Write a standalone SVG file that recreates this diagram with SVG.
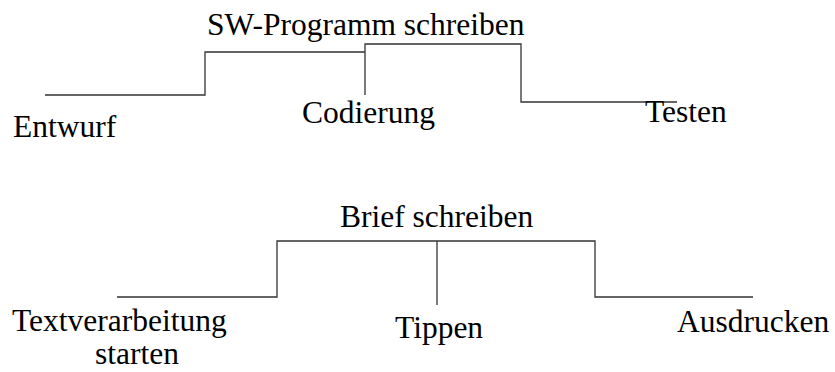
<svg xmlns="http://www.w3.org/2000/svg" width="835" height="372" viewBox="0 0 835 372">
<style>
text{font-family:"Liberation Serif","Times New Roman",serif;font-size:31.5px;fill:#000}
.c line,.c polyline{stroke:#333;stroke-width:1.3;fill:none}
</style>
<rect width="835" height="372" fill="#fff"/>
<g class="c" id="connectors">
<polyline points="45,95 205,95 205,52 365,52"/>
<polyline points="365,95 365,44 521,44 521,102 677,102"/>
<polyline points="117,297 277,297 277,241 595,241 595,297 753,297"/>
<line x1="437" y1="241" x2="437" y2="305"/>
</g>
<g id="sw"><text x="207" y="35">SW-Programm schreiben</text></g>
<g id="entwurf"><text x="13" y="137">Entwurf</text></g>
<g id="codierung"><text x="302" y="123">Codierung</text></g>
<g id="testen"><text x="645" y="122">Testen</text></g>
<g id="brief"><text x="340" y="227">Brief schreiben</text></g>
<g id="textverarbeitung"><text x="12" y="331">Textverarbeitung</text><text x="95" y="364">starten</text></g>
<g id="tippen"><text x="395" y="338">Tippen</text></g>
<g id="ausdrucken"><text x="677" y="332">Ausdrucken</text></g>
</svg>
